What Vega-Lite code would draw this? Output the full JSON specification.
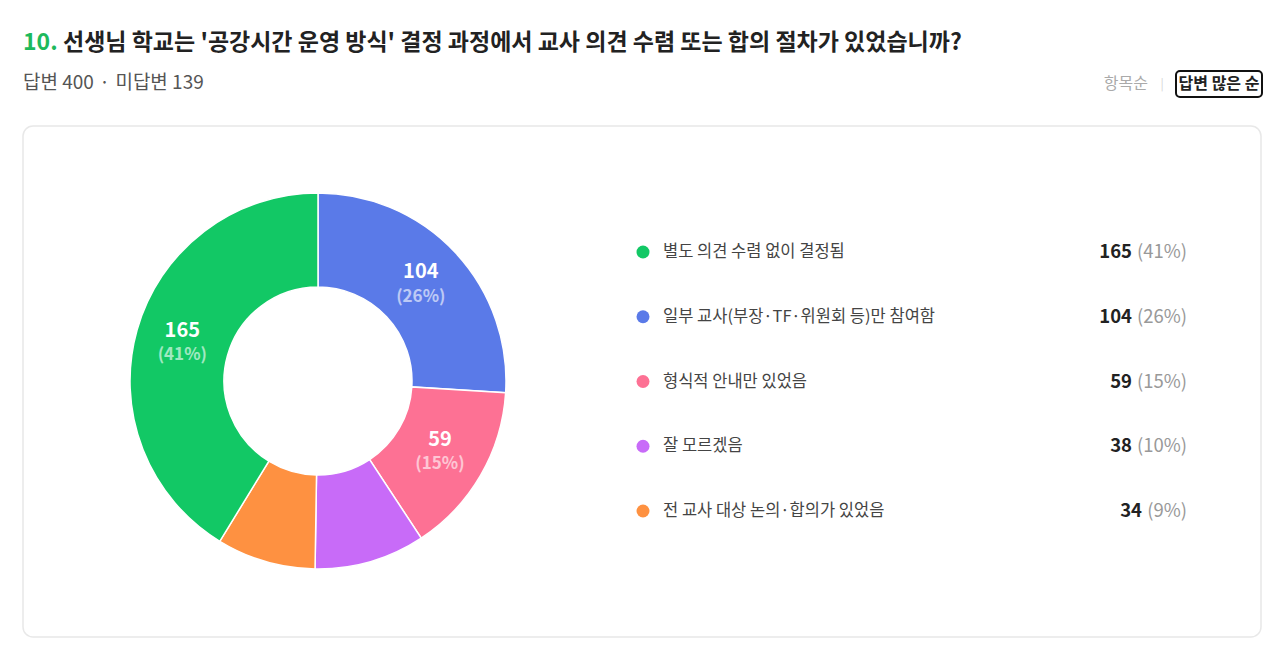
{
  "$schema": "https://vega.github.io/schema/vega-lite/v6.json",
  "background": "#ffffff",
  "padding": {"left": 22, "top": 0, "right": 0, "bottom": 0},
  "spacing": 0,
  "config": {
    "font": "Noto Sans CJK KR",
    "view": {"stroke": null}
  },
  "datasets": {
    "answers": [
      {"order": 1, "category": "일부 교사(부장·TF·위원회 등)만 참여함", "count": 104, "pct": 26},
      {"order": 2, "category": "형식적 안내만 있었음", "count": 59, "pct": 15},
      {"order": 3, "category": "잘 모르겠음", "count": 38, "pct": 10},
      {"order": 4, "category": "전 교사 대상 논의·합의가 있었음", "count": 34, "pct": 9},
      {"order": 5, "category": "별도 의견 수렴 없이 결정됨", "count": 165, "pct": 41}
    ]
  },
  "vconcat": [
    {
      "width": 1240,
      "height": 125,
      "data": {"values": [{"n": 1}]},
      "layer": [
        {"mark": {"type": "text", "text": "10.", "x": 0, "y": 43, "align": "left", "baseline": "middle", "fontSize": 23, "fontWeight": "bold", "color": "#1db95c"}, "encoding": {}},
        {"mark": {"type": "text", "text": "선생님 학교는 '공강시간 운영 방식' 결정 과정에서 교사 의견 수렴 또는 합의 절차가 있었습니까?", "x": 40, "y": 43, "align": "left", "baseline": "middle", "fontSize": 23, "fontWeight": "bold", "color": "#222222"}, "encoding": {}},
        {"mark": {"type": "text", "text": "답변 400  \u200a·\u200a  미답변 139", "x": 0, "y": 83, "align": "left", "baseline": "middle", "fontSize": 19, "color": "#555555"}, "encoding": {}},
        {"mark": {"type": "text", "text": "항목순", "x": 1125, "y": 84, "align": "right", "baseline": "middle", "fontSize": 16, "color": "#aaaaaa"}, "encoding": {}},
        {"mark": {"type": "text", "text": "|", "x": 1139, "y": 84, "align": "center", "baseline": "middle", "fontSize": 12, "color": "#d5d5d5"}, "encoding": {}},
        {"mark": {"type": "rect", "x": 1153, "x2": 1239, "y": 71, "y2": 97, "cornerRadius": 4, "fill": "#ffffff", "stroke": "#111111", "strokeWidth": 2}, "encoding": {}},
        {"mark": {"type": "text", "text": "답변 많은 순", "x": 1196, "y": 84, "align": "center", "baseline": "middle", "fontSize": 16, "fontWeight": "bold", "color": "#222222"}, "encoding": {}}
      ]
    },
    {
      "width": 1238,
      "height": 511,
      "view": {"stroke": "#e8e8e8", "strokeWidth": 1.5, "cornerRadius": 10, "fill": "#ffffff"},
      "data": {"name": "answers"},
      "transform": [
        {"calculate": "'(' + datum.pct + '%)'", "as": "pctLabel"}
      ],
      "encoding": {
        "y": {"field": "category", "type": "nominal", "axis": null,
              "scale": {"type": "point", "padding": 0, "domain": ["별도 의견 수렴 없이 결정됨", "일부 교사(부장·TF·위원회 등)만 참여함", "형식적 안내만 있었음", "잘 모르겠음", "전 교사 대상 논의·합의가 있었음"], "range": [126, 385]}}
      },
      "layer": [
        {
          "mark": {"type": "arc", "x": 295, "y": 255, "innerRadius": 94, "outerRadius": 188, "stroke": "#ffffff", "strokeWidth": 1.5},
          "encoding": {
            "y": null,
            "theta": {"field": "count", "type": "quantitative", "stack": true},
            "order": {"field": "order", "type": "quantitative"},
            "color": {"field": "category", "type": "nominal", "legend": null,
                      "scale": {"domain": ["별도 의견 수렴 없이 결정됨", "일부 교사(부장·TF·위원회 등)만 참여함", "형식적 안내만 있었음", "잘 모르겠음", "전 교사 대상 논의·합의가 있었음"],
                                "range": ["#12c865", "#5a7ae8", "#fd7194", "#c86bf8", "#fe9141"]}}
          }
        },
        {
          "mark": {"type": "text", "x": 295, "y": 255, "radius": 141, "dy": -12, "fontSize": 20, "fontWeight": "bold", "color": "#ffffff"},
          "encoding": {
            "y": null,
            "theta": {"field": "count", "type": "quantitative", "stack": true},
            "order": {"field": "order", "type": "quantitative"},
            "detail": {"field": "category", "type": "nominal"},
            "text": {"condition": {"test": "datum.count < 50", "value": ""}, "field": "count", "type": "quantitative"}
          }
        },
        {
          "mark": {"type": "text", "x": 295, "y": 255, "radius": 141, "dy": 12.5, "fontSize": 17, "fontWeight": "bold", "color": "#ffffff", "opacity": 0.6},
          "encoding": {
            "y": null,
            "theta": {"field": "count", "type": "quantitative", "stack": true},
            "order": {"field": "order", "type": "quantitative"},
            "detail": {"field": "category", "type": "nominal"},
            "text": {"condition": {"test": "datum.count < 50", "value": ""}, "field": "pctLabel", "type": "nominal"}
          }
        },
        {
          "mark": {"type": "point", "filled": true, "opacity": 1, "size": 169, "x": 620},
          "encoding": {
            "color": {"field": "category", "type": "nominal", "legend": null}
          }
        },
        {
          "mark": {"type": "text", "x": 640, "align": "left", "baseline": "middle", "fontSize": 16.5, "color": "#444444"},
          "encoding": {"text": {"field": "category", "type": "nominal"}}
        },
        {
          "mark": {"type": "text", "x": 1164, "align": "right", "baseline": "middle", "fontSize": 18.5, "color": "#999999"},
          "encoding": {"text": {"field": "pctLabel", "type": "nominal"}}
        },
        {
          "transform": [{"filter": "datum.pct >= 10"}],
          "mark": {"type": "text", "x": 1109, "align": "right", "baseline": "middle", "fontSize": 18.5, "fontWeight": "bold", "color": "#222222"},
          "encoding": {
            "text": {"field": "count", "type": "quantitative"}
          }
        },
        {
          "transform": [{"filter": "datum.pct < 10"}],
          "mark": {"type": "text", "x": 1119, "align": "right", "baseline": "middle", "fontSize": 18.5, "fontWeight": "bold", "color": "#222222"},
          "encoding": {
            "text": {"field": "count", "type": "quantitative"}
          }
        }
      ]
    }
  ]
}
